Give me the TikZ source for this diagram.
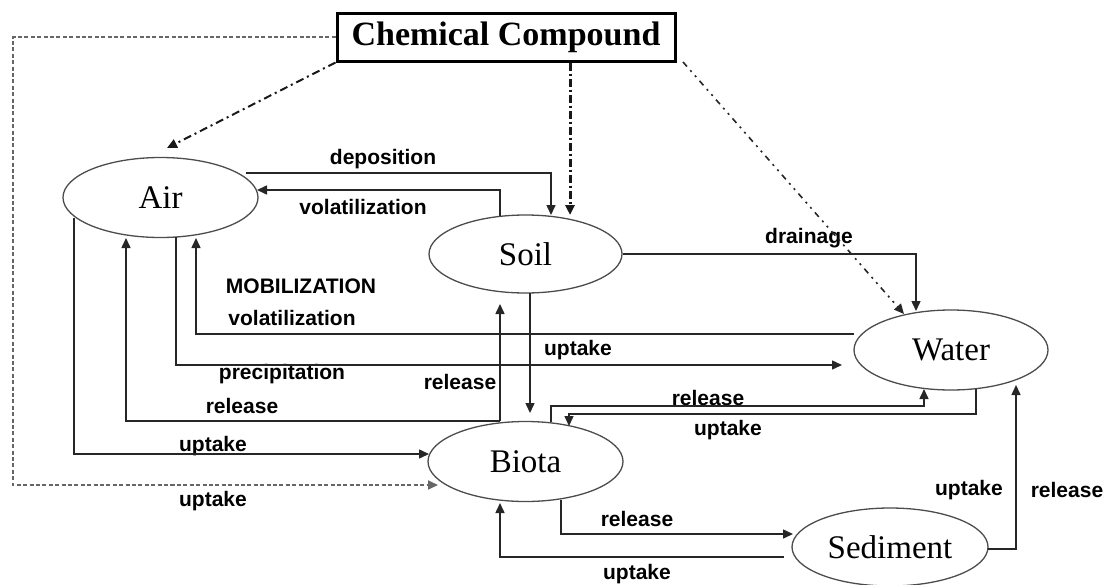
\documentclass[tikz,border=0pt]{standalone}
\usepackage{fontspec}
\setmainfont{Liberation Serif}
\setsansfont{Liberation Sans}
\usetikzlibrary{arrows.meta,shapes.geometric}
\begin{document}
\begin{tikzpicture}[x=0.5pt,y=-0.5pt,
  comp/.style={ellipse,draw=black!70,line width=0.65pt,inner sep=0pt,minimum width=97.5pt,minimum height=40pt,font=\fontsize{16.5}{18}\selectfont},
  lbl/.style={font=\sffamily\bfseries\fontsize{10.5}{12}\selectfont,inner sep=0pt,text=black},
  flow/.style={draw=black!85,line width=0.75pt},
  tip/.style={-{Triangle[length=5pt,width=4.5pt]}},
  dsh/.style={draw=black!60,line width=1pt,dash pattern=on 2pt off 1.2pt},
  dashdot/.style={draw=black!90,line width=1pt,dash pattern=on 4pt off 2pt on 1pt off 2pt},
  dashdotthick/.style={draw=black!90,line width=1.5pt,dash pattern=on 4pt off 1.5pt on 1pt off 1.5pt},
  dashdotdot/.style={draw=black!85,line width=0.8pt,dash pattern=on 3pt off 2.5pt on 1pt off 2.5pt on 1pt off 2.5pt}
]
\useasboundingbox (0,0) rectangle (1109,584);
% nodes
\node[draw=black,line width=1.5pt,minimum width=169pt,minimum height=24pt,inner sep=0pt,font=\bfseries\fontsize{17}{19}\selectfont] (chem) at (506,37) {Chemical Compound};
\node[comp] (air) at (160.5,197.5) {Air};
\node[comp,minimum width=96.5pt,minimum height=39pt] (soil) at (525.5,254) {Soil};
\node[comp] (biota) at (525.5,461.5) {Biota};
\node[comp,minimum width=97pt] (water) at (951,350) {Water};
\node[comp,minimum width=98pt,minimum height=39pt] (sed) at (890,547) {Sediment};

% labels
\node[lbl] (ldep) at (383,159) {deposition};
\node[lbl] (lvol1) at (363,207) {volatilization};
\node[lbl] (ldrain) at (809,238) {drainage};
\node[lbl] (lmob) at (301,286) {MOBILIZATION};
\node[lbl] (lvol2) at (292,318) {volatilization};
\node[lbl] (lup1) at (578,350) {uptake};
\node[lbl] (lprec) at (282,374) {precipitation};
\node[lbl] (lrel1) at (460,382) {release};
\node[lbl] (lrel2) at (242,406) {release};
\node[lbl] (lrel3) at (708,398) {release};
\node[lbl] (lup2) at (728,430) {uptake};
\node[lbl] (lup3) at (213,446) {uptake};
\node[lbl] (lup4) at (213,501) {uptake};
\node[lbl] (lup5) at (969,490) {uptake};
\node[lbl] (lrel4) at (1067,490) {release};
\node[lbl] (lrel5) at (637,519) {release};
\node[lbl] (lup6) at (637,574) {uptake};

% coordinates
\coordinate (c1) at (13,37);
\coordinate (c2) at (13,485);
\coordinate (bdash) at (438,485);
\coordinate (airtip) at (167,148);
\coordinate (soiltipA) at (570,215);
\coordinate (depS) at (246,173);
\coordinate (depC) at (551,173);
\coordinate (depT) at (551,215);
\coordinate (volS) at (500,216);
\coordinate (volC) at (500,190);
\coordinate (volT) at (257,190);
\coordinate (drC) at (916,254);
\coordinate (drT) at (916,311);
\coordinate (chemBR) at (683,62);
\coordinate (watT) at (904,314);
\coordinate (sbS) at (530,293);
\coordinate (sbT) at (530,413);
\coordinate (brS) at (500,421);
\coordinate (brT) at (500,304);
\coordinate (raC) at (126,421);
\coordinate (raT) at (126,238);
\coordinate (uaS) at (74,218);
\coordinate (uaC) at (74,454);
\coordinate (uaT) at (429,454);
\coordinate (prS) at (176,237);
\coordinate (prC) at (176,365);
\coordinate (prT) at (842,365);
\coordinate (wvS) at (854,334);
\coordinate (wvC) at (196,334);
\coordinate (wvT) at (196,238);
\coordinate (bwS) at (551,422);
\coordinate (bwC1) at (551,406);
\coordinate (bwC2) at (924,406);
\coordinate (bwT) at (924,389);
\coordinate (wbS) at (976,389);
\coordinate (wbC1) at (976,414);
\coordinate (wbC2) at (569,414);
\coordinate (wbT) at (569,426);
\coordinate (bsS) at (561,500);
\coordinate (bsC) at (561,534);
\coordinate (bsT) at (793,534);
\coordinate (sbuS) at (784,557);
\coordinate (sbuC) at (500,557);
\coordinate (sbuT) at (500,503);
\coordinate (swS) at (988,549);
\coordinate (swC) at (1016,549);
\coordinate (swT) at (1016,385);

% connectors from chemical compound
\draw[dsh,tip] (chem.west |- c1) -- (c1) -- (c2) -- (bdash);
\draw[dashdot,tip] (chem.south west) -- (airtip);
\draw[dashdotthick,tip] (chem.south -| soiltipA) -- (soiltipA);
\draw[dashdotdot,tip] (chemBR) -- (watT);

% flows
\draw[flow,tip] (depS) -- (depC) -- (depT);
\draw[flow,tip] (volS) -- (volC) -- (volT);
\draw[flow,tip] (soil.east) -- (drC) -- (drT);
\draw[flow,tip] (sbS) -- (sbT);
\draw[flow,tip] (brS) -- (brT);
\draw[flow,tip] (brS) -- (raC) -- (raT);
\draw[flow,tip] (uaS) -- (uaC) -- (uaT);
\draw[flow,tip] (prS) -- (prC) -- (prT);
\draw[flow,tip] (wvS) -- (wvC) -- (wvT);
\draw[flow,tip] (bwS) -- (bwC1) -- (bwC2) -- (bwT);
\draw[flow,tip] (wbS) -- (wbC1) -- (wbC2) -- (wbT);
\draw[flow,tip] (bsS) -- (bsC) -- (bsT);
\draw[flow,tip] (sbuS) -- (sbuC) -- (sbuT);
\draw[flow,tip] (swS) -- (swC) -- (swT);
\end{tikzpicture}
\end{document}
